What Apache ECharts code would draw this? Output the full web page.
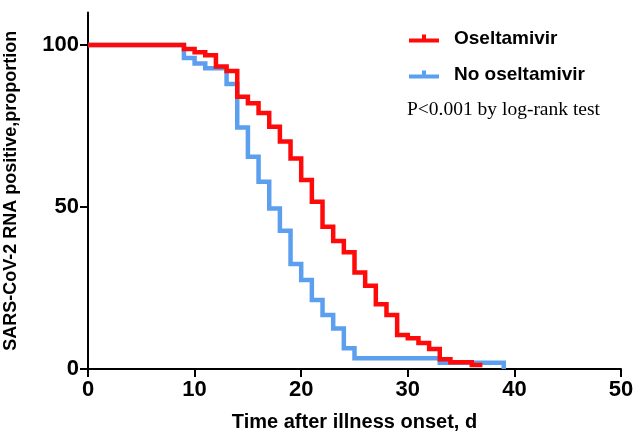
<!DOCTYPE html>
<html>
<head>
<meta charset="utf-8">
<script src="https://cdn.jsdelivr.net/npm/echarts@6/dist/echarts.min.js"></script>
<style>html,body{margin:0;padding:0;background:#fff}#c{width:635px;height:435px}</style>
</head>
<body>
<div id="c"></div>
<script>
// Kaplan-Meier step data (day, % still positive)
const oseltamivirDays   = [0, 9, 10, 11, 12, 13, 14, 15, 16, 17, 18, 19, 20, 21, 22, 23, 24, 25, 26, 27, 28, 29, 30, 31, 32, 33, 34, 36, 37];
const oseltamivirValues = [100, 98.8, 97.8, 96.8, 93.4, 92, 84, 82, 79, 74.8, 70.2, 65, 58.3, 51.6, 43.9, 39.5, 36, 29.8, 25.7, 20, 16.7, 10.5, 9.5, 8, 6.2, 3, 2.1, 1.2, 1.2];
const noOseltamivirDays   = [0, 9, 10, 11, 13, 14, 15, 16, 17, 18, 19, 20, 21, 22, 23, 24, 25, 33, 39, 39];
const noOseltamivirValues = [100, 96, 94.3, 92.8, 88, 74.5, 65.5, 57.8, 49.5, 42.7, 32.4, 27.5, 21.3, 16.7, 12.5, 6.4, 3.3, 1.9, 1.9, 0];
const xTicks = [0, 10, 20, 30, 40, 50];
const yTicks = [0, 50, 100];
const seriesNames = ['Oseltamivir', 'No oseltamivir'];
const pText = 'P<0.001 by log-rank test';
const xTitle = 'Time after illness onset, d';
const yTitle = 'SARS-CoV-2 RNA positive,proportion';

const zip = (a, b) => a.map((v, i) => [v, b[i]]);
const FONT = "'Liberation Sans', Arial, sans-serif";
const RED = '#FF0A0A', BLUE = '#5C9FEE';
const legendIcon = 'path://M0,8h30v4h-30z M13,4h4v6h-4z';
const Y_MAX = 110;   // axis line runs a bit above the last tick
const TOP = 12.6, BOTTOM = 66;
const plotH = 435 - TOP - BOTTOM;
const tickGridTop = TOP + plotH * (Y_MAX - yTicks[yTicks.length - 1]) / Y_MAX;

const chart = echarts.init(document.getElementById('c'), null, {renderer: 'canvas'});
chart.setOption({
  animation: false,
  backgroundColor: '#fff',
  grid: [
    {left: 88, right: 14, top: TOP, bottom: BOTTOM, containLabel: false, outerBoundsMode: 'none'},
    {left: 88, right: 14, top: tickGridTop, bottom: BOTTOM, containLabel: false, outerBoundsMode: 'none'}
  ],
  xAxis: [{
    gridIndex: 0, type: 'value', min: xTicks[0], max: xTicks[xTicks.length - 1], interval: 10,
    axisLine: {lineStyle: {color: '#000', width: 2}},
    axisTick: {show: true, length: 8, lineStyle: {color: '#000', width: 2}},
    axisLabel: {color: '#000', fontFamily: FONT, fontWeight: 'bold', fontSize: 22, margin: 10},
    splitLine: {show: false},
    name: xTitle, nameLocation: 'middle', nameGap: 43,
    nameTextStyle: {color: '#000', fontFamily: FONT, fontWeight: 'bold', fontSize: 20}
  }, {
    gridIndex: 1, type: 'value', min: 0, max: 50, show: false
  }],
  yAxis: [{
    gridIndex: 0, type: 'value', min: 0, max: Y_MAX,
    axisLine: {show: true, lineStyle: {color: '#000', width: 2}},
    axisTick: {show: false},
    axisLabel: {show: false},
    splitLine: {show: false},
    name: yTitle, nameLocation: 'middle', nameGap: 68, nameRotate: 90,
    nameTextStyle: {color: '#000', fontFamily: FONT, fontWeight: 'bold', fontSize: 18}
  }, {
    gridIndex: 1, type: 'value', min: 0, max: yTicks[yTicks.length - 1], interval: 50,
    axisLine: {show: false},
    axisTick: {show: true, length: 8, lineStyle: {color: '#000', width: 2}},
    axisLabel: {color: '#000', fontFamily: FONT, fontWeight: 'bold', fontSize: 22, margin: 9},
    splitLine: {show: false}
  }],
  legend: {
    orient: 'vertical', left: 404, top: 24, itemGap: 17,
    itemWidth: 30, itemHeight: 14, icon: legendIcon,
    textStyle: {color: '#000', fontFamily: FONT, fontWeight: 'bold', fontSize: 19, padding: [0, 0, 0, 10]},
    data: seriesNames.map(n => ({name: n}))
  },
  graphic: [{
    type: 'text', left: 407, top: 100,
    style: {text: pText, fill: '#000', font: "19.5px 'Liberation Serif', 'Times New Roman', serif"}
  }],
  series: [
    {name: seriesNames[1], type: 'line', step: 'end', showSymbol: false, color: BLUE, xAxisIndex: 0, yAxisIndex: 0,
     lineStyle: {width: 4.5, color: BLUE, join: 'miter', cap: 'butt'}, data: zip(noOseltamivirDays, noOseltamivirValues), z: 2},
    {name: seriesNames[0], type: 'line', step: 'end', showSymbol: false, color: RED, xAxisIndex: 0, yAxisIndex: 0,
     lineStyle: {width: 4.5, color: RED, join: 'miter', cap: 'butt'}, data: zip(oseltamivirDays, oseltamivirValues), z: 3}
  ]
});
</script>
</body>
</html>
